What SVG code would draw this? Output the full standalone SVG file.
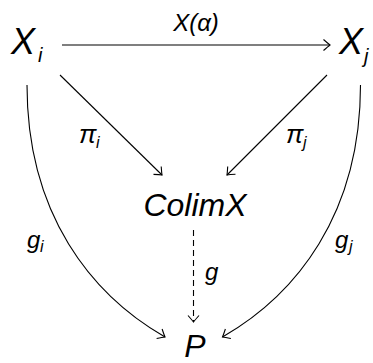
<svg xmlns="http://www.w3.org/2000/svg" width="373" height="363" viewBox="0 0 373 363">
<style>
text{font-family:"Liberation Sans",Arial,sans-serif;font-style:italic;fill:#000}
.big{font-size:32px}
.nd{font-size:36px}
.lbl{font-size:24px}
.pi{font-size:26px}
.sub{font-size:16px}
.sb{font-size:20px}
.e{fill:none;stroke:#000;stroke-width:1.1}
.d{stroke-dasharray:6 4}
</style>
<defs>
<marker id="a" markerUnits="userSpaceOnUse" markerWidth="14" markerHeight="14" viewBox="-10 -7 14 14" refX="0" refY="0" orient="auto">
<path d="M-6.5,-5.5 Q-2,-1.5 0,0 Q-2,1.5 -6.5,5.5" fill="none" stroke="#000" stroke-width="1.1"/>
</marker>
</defs>
<g id="connectors">
<path class="e" d="M62,45 H330" marker-end="url(#a)"/>
<path class="e" d="M60,75 L162,175" marker-end="url(#a)"/>
<path class="e" d="M327,75 L227,175" marker-end="url(#a)"/>
<path class="e d" d="M193.5,230 V322" marker-end="url(#a)"/>
<path class="e" d="M27,85 C27,215 92,295 165,337" marker-end="url(#a)"/>
<path class="e" d="M360.5,85 C360.5,215 295.5,295 222.5,337" marker-end="url(#a)"/>
</g>
<g id="Xi"><text class="nd" x="11" y="54">X</text><text class="sb" x="38" y="62">i</text></g>
<g id="Xj"><text class="nd" x="339" y="54">X</text><text class="sb" x="364" y="63">j</text></g>
<g id="Colim"><text class="big" x="195" y="216" text-anchor="middle">ColimX</text></g>
<g id="P"><text class="big" x="195" y="357" text-anchor="middle">P</text></g>
<g id="labels">
<text class="lbl" x="196" y="31" text-anchor="middle">X(α)</text>
<text class="pi" x="79" y="143">π</text><text class="sub" x="96" y="148">i</text>
<text class="pi" x="286" y="143">π</text><text class="sub" x="303" y="148">j</text>
<text class="lbl" x="27" y="248">g</text><text class="sub" x="40" y="252">i</text>
<text class="lbl" x="335" y="248">g</text><text class="sub" x="349" y="252">j</text>
<text class="lbl" x="205" y="280">g</text>
</g>
</svg>
